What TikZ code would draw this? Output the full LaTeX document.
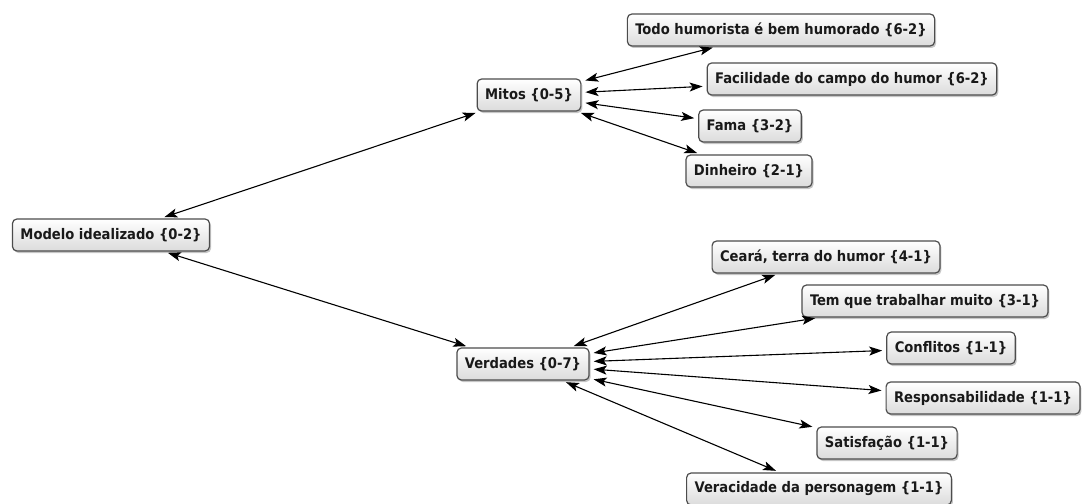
\documentclass[tikz,border=0pt]{standalone}
\usepackage{fontspec}
\setmainfont{DejaVu Sans Condensed}
\usetikzlibrary{arrows.meta,shadows}
\begin{document}
\begin{tikzpicture}[x=1pt,y=-1pt,
  box/.style={draw=black!70, line width=1.2pt, rounded corners=4.5pt, top color=white, bottom color=black!14,
    drop shadow={shadow xshift=1.5pt, shadow yshift=-2pt, opacity=0.45},
    font=\fontsize{14.6}{16}\selectfont\bfseries, inner xsep=8pt, minimum height=32pt, text=black!90},
  link/.style={{Stealth[length=13pt,width=9pt,inset=3pt]}-{Stealth[length=13pt,width=9pt,inset=3pt]}, line width=1.1pt, black, shorten <=4pt, shorten >=4pt}]
\useasboundingbox (0,0) rectangle (1086,503);
\node[box] (modelo) at (111,235) {Modelo idealizado \{0-2\}};
\node[box] (mitos) at (529,95) {Mitos \{0-5\}};
\node[box] (todo) at (781,30) {Todo humorista é bem humorado \{6-2\}};
\node[box] (facil) at (852,79) {Facilidade do campo do humor \{6-2\}};
\node[box] (fama) at (750,126) {Fama \{3-2\}};
\node[box] (dinheiro) at (749,171) {Dinheiro \{2-1\}};
\node[box] (verdades) at (523,364) {Verdades \{0-7\}};
\node[box] (ceara) at (826,257) {Ceará, terra do humor \{4-1\}};
\node[box] (tem) at (925,301) {Tem que trabalhar muito \{3-1\}};
\node[box] (conf) at (951,348) {Conflitos \{1-1\}};
\node[box] (resp) at (983,398) {Responsabilidade \{1-1\}};
\node[box] (sat) at (887,443) {Satisfação \{1-1\}};
\node[box] (verac) at (819,489) {Veracidade da personagem \{1-1\}};
\draw[link] (modelo) -- (mitos);
\draw[link] (modelo) -- (verdades);
\draw[link] (mitos) -- (todo);
\draw[link] (mitos) -- (facil);
\draw[link] (mitos) -- (fama);
\draw[link] (mitos) -- (dinheiro);
\draw[link] (verdades) -- (ceara);
\draw[link] (verdades) -- (tem);
\draw[link] (verdades) -- (conf);
\draw[link] (verdades) -- (resp);
\draw[link] (verdades) -- (sat);
\draw[link] (verdades) -- (verac);
\end{tikzpicture}
\end{document}
